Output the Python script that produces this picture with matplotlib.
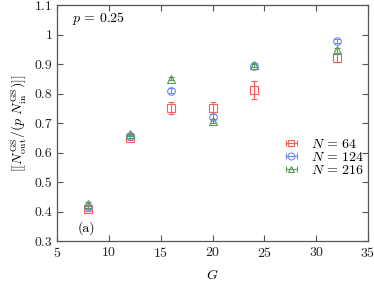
import numpy as np
import matplotlib
matplotlib.use('Agg')
import matplotlib.pyplot as plt
from matplotlib.lines import Line2D
from matplotlib.legend_handler import HandlerLine2D, HandlerTuple
from matplotlib.ticker import FuncFormatter

plt.rcParams['font.family'] = 'serif'
plt.rcParams['font.serif'] = ['cmr10']
plt.rcParams['mathtext.fontset'] = 'cm'
plt.rcParams['axes.formatter.use_mathtext'] = True

# data
G = [8, 12, 16, 20, 24, 32]
r64 = [0.410, 0.650, 0.751, 0.750, 0.812, 0.922]
e64 = [0.008, 0.008, 0.020, 0.020, 0.030, 0.016]
r124 = [0.415, 0.655, 0.810, 0.722, 0.895, 0.978]
e124 = [0.006, 0.006, 0.008, 0.008, 0.006, 0.008]
r216 = [0.426, 0.662, 0.851, 0.707, 0.896, 0.947]
e216 = [0.006, 0.006, 0.006, 0.008, 0.006, 0.008]
labels = [r'$N\,=\,64$', r'$N\,=\,124$', r'$N\,=\,216$']

red = '#ff5a5a'
blue = '#6a8cf0'
green = '#5a9a5a'

fig = plt.figure(figsize=(3.74, 2.81), dpi=100)
ax = fig.add_axes([0.153, 0.142, 0.831, 0.840])

series = [(r64, e64, red, 's', 5.5), (r124, e124, blue, 'o', 5.5), (r216, e216, green, '^', 5.5)]
handles = []
hmap = {tuple: HandlerTuple(ndivide=1)}
for (r, e, c, m, ms) in series:
    ax.errorbar(G, r, yerr=e, fmt=m, ms=ms, mfc='none', mec=c, color=c,
                ecolor=c, elinewidth=0.8, capsize=2.5, capthick=0.8, mew=0.8)
    bar = Line2D([], [], color=c, lw=0.8, marker='|', ms=5, mew=0.8)
    mk = Line2D([], [], color=c, ls='none', marker=m, ms=5, mfc='none', mew=0.8)
    hmap[bar] = HandlerLine2D(numpoints=2)
    hmap[mk] = HandlerLine2D(numpoints=1)
    handles.append((bar, mk))

ax.legend(handles, labels, handler_map=hmap,
          loc='upper left', bbox_to_anchor=(0.69, 0.48), frameon=False,
          fontsize=10, handlelength=1.4, handletextpad=0.7, labelspacing=0.0,
          borderpad=0.2)

ax.set_xlim(5, 35)
ax.set_ylim(0.3, 1.1)
ax.set_xticks([5, 10, 15, 20, 25, 30, 35])
ax.set_yticks(np.arange(0.3, 1.101, 0.1))
ax.yaxis.set_major_formatter(FuncFormatter(lambda v, p: '%g' % round(v, 2)))
ax.tick_params(direction='in', top=True, right=True, labelsize=10, length=4.5,
               color='#555555', width=0.8, labelcolor='#222222')
for s in ax.spines.values():
    s.set_color('#555555')
    s.set_linewidth(0.9)

ax.set_xlabel('$G$', fontsize=10, labelpad=6)
ax.set_ylabel(r'$[[N_{\rm out}^{\rm GS}/(p\ N_{\rm in}^{\rm GS})]]$', fontsize=10, labelpad=4)
ax.text(6.4, 1.055, r'$p\,=\,0.25$', fontsize=10, va='center')
ax.text(7.0, 0.343, '(a)', fontsize=10, va='center')

fig.savefig('out.png', dpi=100)
